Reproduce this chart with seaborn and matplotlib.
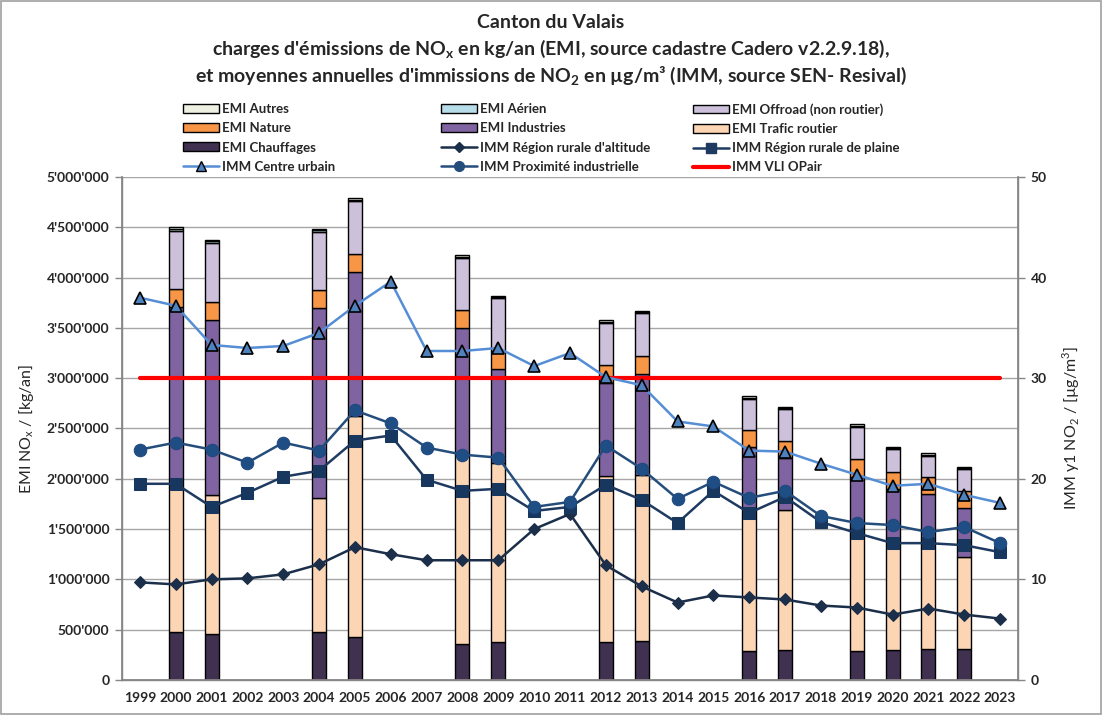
import matplotlib
matplotlib.use("Agg")
import matplotlib.pyplot as plt
import matplotlib.ticker as mticker
from matplotlib.patches import Patch, Rectangle
from matplotlib.lines import Line2D
import numpy as np
import seaborn as sns

# 1. DONNÉES
years = [str(y) for y in range(1999, 2024)]

bar_years = ['2000', '2001', '2004', '2005', '2008', '2009', '2012', '2013',
             '2016', '2017', '2019', '2020', '2021', '2022']
emi_chauffages = [480000, 457000, 480000, 424000, 358000, 375000, 375000, 391000,
                  288000, 298000, 288000, 298000, 305000, 305000]
emi_trafic = [1441000, 1382000, 1326000, 2200000, 1879000, 1779000, 1653000, 1647000,
              1330000, 1392000, 1150000, 1110000, 1005000, 921000]
emi_industries = [1784000, 1740000, 1889000, 1429000, 1259000, 937000, 921000, 1001000,
                  693000, 514000, 575000, 488000, 536000, 481000]
emi_nature = [179000, 175000, 182000, 182000, 182000, 179000, 179000, 185000,
              172000, 175000, 182000, 175000, 169000, 175000]
emi_offroad = [582000, 593000, 579000, 526000, 514000, 524000, 418000, 421000,
               308000, 312000, 321000, 222000, 215000, 215000]
emi_aerien = [15000, 13000, 12000, 14000, 16000, 13000, 17000, 12000,
              14000, 12000, 11000, 10000, 11000, 12000]
emi_autres = [17000, 11000, 12000, 15000, 17000, 13000, 16000, 13000,
              16000, 14000, 13000, 10000, 12000, 11000]

imm_centre_urbain = [38.0, 37.2, 33.3, 33.0, 33.2, 34.5, 37.2, 39.6, 32.7, 32.7, 33.0, 31.2, 32.5,
                     30.1, 29.3, 25.7, 25.2, 22.8, 22.7, 21.5, 20.4, 19.3, 19.5, 18.4, 17.6]
imm_proximite_ind = [22.9, 23.6, 22.9, 21.6, 23.6, 22.8, 26.8, 25.5, 23.1, 22.4, 22.1, 17.2, 17.7,
                     23.3, 21.0, 18.0, 19.7, 18.1, 18.8, 16.3, 15.6, 15.4, 14.7, 15.2, 13.6]
imm_rural_plaine = [19.5, 19.5, 17.2, 18.6, 20.2, 20.8, 23.8, 24.3, 19.9, 18.8, 19.0, 16.8, 17.2,
                    19.4, 17.9, 15.6, 18.8, 16.6, 18.2, 15.7, 14.6, 13.6, 13.6, 13.4, 12.7]
imm_rural_altitude = [9.7, 9.5, 10.0, 10.1, 10.5, 11.5, 13.2, 12.5, 11.9, 11.9, 11.9, 15.0, 16.5,
                      11.4, 9.3, 7.7, 8.4, 8.2, 8.0, 7.4, 7.2, 6.5, 7.1, 6.5, 6.1]
vli_opair = 30

# 2. STYLE
sns.set_theme(style="white")
plt.rcParams['font.family'] = ['Lato', 'DejaVu Sans']

grey = '#868686'
fig = plt.figure(figsize=(11.02, 7.15), dpi=100)
ax = fig.add_axes([0.1107, 0.049, 0.8131, 0.7035])

# 3. BARRES EMPILÉES (axe gauche)
pos = np.array([years.index(y) for y in bar_years])
stack = [
    ('EMI Chauffages', emi_chauffages, '#403151'),
    ('EMI Trafic routier', emi_trafic, '#FCD5B4'),
    ('EMI Industries', emi_industries, '#8064A2'),
    ('EMI Nature', emi_nature, '#F79646'),
    ('EMI Offroad (non routier)', emi_offroad, '#CCC0DA'),
    ('EMI Aérien', emi_aerien, '#B7DEE8'),
    ('EMI Autres', emi_autres, '#EEF1E2'),
]
bottom = np.zeros(len(bar_years))
handles = {}
for name, vals, col in stack:
    vals = np.array(vals, dtype=float)
    ax.bar(pos, vals, bottom=bottom, width=0.39, color=col, edgecolor='black',
           linewidth=1.0, zorder=2)
    bottom += vals
    handles[name] = Patch(facecolor=col, edgecolor='black', linewidth=1.0)

ax.set_xlim(-0.5, len(years) - 0.5)
ax.set_ylim(0, 5000000)
ax.yaxis.set_major_locator(mticker.MultipleLocator(500000))
ax.yaxis.set_major_formatter(mticker.FuncFormatter(lambda v, p: f"{int(v):,}".replace(',', "'")))
ax.set_xticks(range(len(years)))
ax.set_xticklabels(years, fontweight='bold', fontsize=10)
ax.set_xticks(np.arange(-0.5, len(years)), minor=True)
ax.tick_params(axis='x', which='major', length=0, pad=9)
ax.tick_params(axis='x', which='minor', length=5, color=grey, width=1, direction='out')
ax.tick_params(axis='y', length=5, color=grey, width=1, direction='out', labelsize=10, pad=4, left=True)
for lab in ax.get_yticklabels():
    lab.set_fontweight('bold')
ax.grid(axis='y', color='#A6A6A6', linewidth=1, zorder=0)
ax.set_axisbelow(True)
for s in ['left', 'bottom', 'right']:
    ax.spines[s].set_color(grey)
    ax.spines[s].set_linewidth(1)
ax.spines['top'].set_visible(False)
ax.set_ylabel('EMI NO$_\\mathregular{x}$ / [kg/an]', fontsize=11.5, labelpad=8)

# 4. LIGNES IMMISSIONS (axe droit)
ax2 = ax.twinx()
xs = np.arange(len(years))
sns.lineplot(x=xs, y=imm_rural_altitude, ax=ax2, color='#1B2F4A', linewidth=1.8,
             marker='D', markersize=6, markeredgecolor='#1B2F4A', zorder=3)
sns.lineplot(x=xs, y=imm_rural_plaine, ax=ax2, color='#1F3A60', linewidth=1.8,
             marker='s', markersize=8, markeredgecolor='#17375E', markerfacecolor='#17375E', zorder=3)
sns.lineplot(x=xs, y=imm_proximite_ind, ax=ax2, color='#254D7C', linewidth=1.8,
             marker='o', markersize=9, markeredgecolor='#1F497D', markerfacecolor='#1F4E85', zorder=3)
sns.lineplot(x=xs, y=imm_centre_urbain, ax=ax2, color='#558ED5', linewidth=1.8,
             marker='^', markersize=9, markeredgecolor='black', markerfacecolor='#4F81BD',
             markeredgewidth=1.2, zorder=4)
sns.lineplot(x=[xs[0], xs[-1]], y=[vli_opair, vli_opair], ax=ax2, color='#FF0000',
             linewidth=3, zorder=3)

ax2.set_ylim(0, 50)
ax2.set_xlim(-0.5, len(years) - 0.5)
ax2.yaxis.set_major_locator(mticker.MultipleLocator(10))
ax2.tick_params(axis='y', length=5, color=grey, width=1, direction='out', labelsize=10, pad=4, right=True)
for lab in ax2.get_yticklabels():
    lab.set_fontweight('bold')
ax2.grid(False)
for s in ['left', 'bottom', 'right']:
    ax2.spines[s].set_color(grey)
ax2.spines['top'].set_visible(False)
ax2.set_ylabel('IMM y1 NO$_\\mathregular{2}$ / [µg/m$^\\mathregular{3}$]', fontsize=11.5, labelpad=10)

# 5. TITRE
title_kw = dict(ha='center', va='center', fontsize=14, fontweight='bold')
fig.text(0.5, 1 - 22 / 715, 'Canton du Valais', **title_kw)
fig.text(0.5, 1 - 49 / 715,
         "charges d'émissions de NO$_\\mathregular{x}$ en kg/an (EMI, source cadastre Cadero v2.2.9.18),",
         **title_kw)
fig.text(0.5, 1 - 76 / 715,
         "et moyennes annuelles d'immissions de NO$_\\mathregular{2}$ en µg/m³ (IMM, source SEN- Resival)",
         **title_kw)

# 6. LÉGENDE (3 colonnes)
handles["IMM Région rurale d'altitude"] = Line2D([], [], color='#1B2F4A', linewidth=1.8, marker='D', markersize=5)
handles['IMM Région rurale de plaine'] = Line2D([], [], color='#1F3A60', linewidth=1.8, marker='s', markersize=7)
handles['IMM Proximité industrielle'] = Line2D([], [], color='#254D7C', linewidth=1.8, marker='o', markersize=7)
handles['IMM Centre urbain'] = Line2D([], [], color='#558ED5', linewidth=1.8, marker='^', markersize=7,
                                      markeredgecolor='black', markerfacecolor='#4F81BD')
handles['IMM VLI OPair'] = Line2D([], [], color='#FF0000', linewidth=3)

columns = [
    (183, ['EMI Autres', 'EMI Nature', 'EMI Chauffages', 'IMM Centre urbain']),
    (441, ['EMI Aérien', 'EMI Industries', "IMM Région rurale d'altitude", 'IMM Proximité industrielle']),
    (693, ['EMI Offroad (non routier)', 'EMI Trafic routier', 'IMM Région rurale de plaine', 'IMM VLI OPair']),
]
for x0, names in columns:
    fig.legend([handles[n] for n in names], names, loc='upper left',
               bbox_to_anchor=(x0 / 1102, 1 - 103 / 715), frameon=False,
               prop={'weight': 'bold', 'size': 9.5}, handlelength=2.7,
               handleheight=0.65, handletextpad=0.25, labelspacing=0.55,
               borderpad=0, borderaxespad=0)

fig.patches.append(Rectangle((0.001, 0.001), 0.998, 0.998, transform=fig.transFigure,
                             fill=False, edgecolor='#A0A0A0', linewidth=1.2))

plt.savefig('out.png', dpi=100)
